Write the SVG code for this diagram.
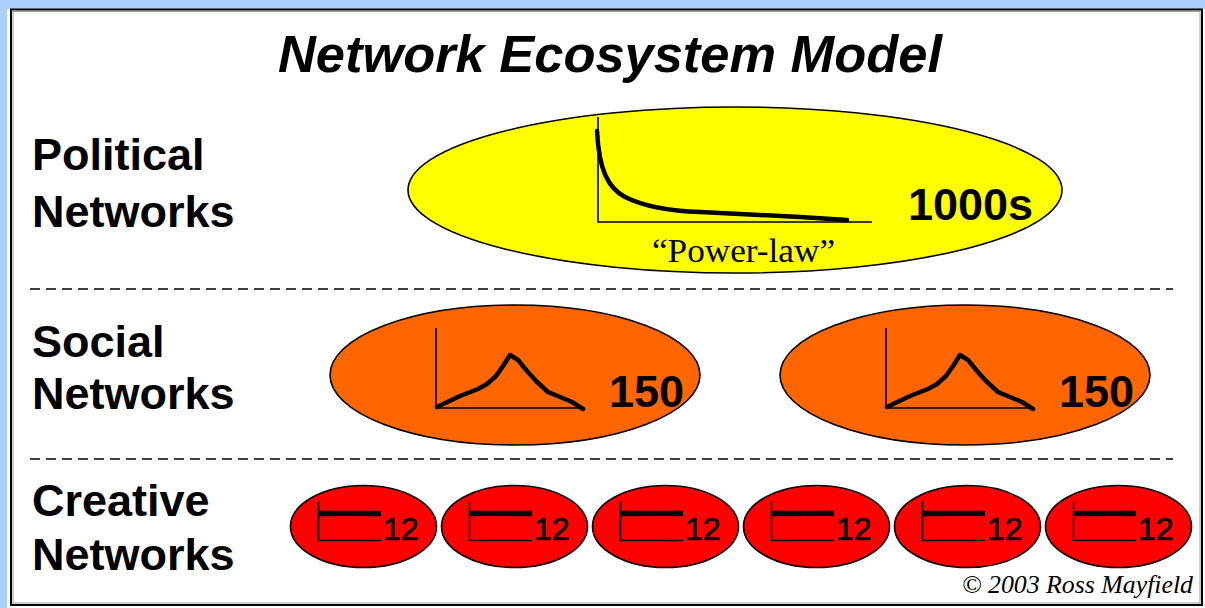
<svg xmlns="http://www.w3.org/2000/svg" width="1205" height="608" viewBox="0 0 1205 608">
  <style>
    .lbl { font-family: "Liberation Sans", Arial, sans-serif; font-weight: bold; font-size: 45px; fill: #000; }
    .num { font-family: "Liberation Sans", Arial, sans-serif; font-weight: bold; font-size: 45px; fill: #000; }
    .small { font-family: "Liberation Sans", Arial, sans-serif; font-size: 32px; fill: #000; stroke: #000; stroke-width: 0.7; }
    .ell { stroke: #000; stroke-width: 1.6; }
    .axis { stroke: #000; stroke-width: 1.6; fill: none; }
    .curve { stroke: #000; stroke-width: 4.5; fill: none; stroke-linejoin: round; stroke-linecap: round; }
    .dash { stroke: #000; stroke-width: 1.5; stroke-dasharray: 10 6; }
  </style>
  <rect x="0" y="0" width="1205" height="608" fill="#abd0fd"/>
  <rect x="7" y="9" width="1198" height="599" fill="#ffffff"/>
  <rect x="11" y="9.5" width="1191" height="595.5" fill="#ffffff" stroke="#000" stroke-width="2"/>
  <rect x="13" y="11.5" width="1187" height="591.5" fill="none" stroke="#999" stroke-width="1"/>

  <g id="title">
    <text x="278" y="72" textLength="664" lengthAdjust="spacingAndGlyphs" style="font-family:'Liberation Sans',Arial,sans-serif;font-weight:bold;font-style:italic;font-size:52px;fill:#000">Network Ecosystem Model</text>
  </g>

  <g id="row-labels">
    <text class="lbl" x="32" y="170">Political</text>
    <text class="lbl" x="32" y="227">Networks</text>
    <text class="lbl" x="32" y="357">Social</text>
    <text class="lbl" x="32" y="409">Networks</text>
    <text class="lbl" x="32" y="516">Creative</text>
    <text class="lbl" x="32" y="570">Networks</text>
  </g>

  <g id="connectors">
    <line class="dash" x1="30" y1="289" x2="1173" y2="289"/>
    <line class="dash" x1="30" y1="459" x2="1173" y2="459"/>
  </g>

  <g id="political">
    <ellipse class="ell" cx="735" cy="190" rx="327" ry="83" fill="#ffff00"/>
    <polyline class="axis" points="598,117 598,222 872,222"/>
    <path class="curve" stroke-width="6" d="M597,131 C599,170 608,188 625,197 C645,207 670,211 700,212 L740,214 L800,217 L847,220"/>
    <text class="num" x="908" y="220">1000s</text>
    <text x="652" y="262" textLength="183" lengthAdjust="spacingAndGlyphs" style="font-family:'Liberation Serif','Times New Roman',serif;font-size:33px;fill:#000">“Power-law”</text>
  </g>

  <g id="social-1" transform="translate(515,375)">
    <ellipse class="ell" cx="0" cy="0" rx="185" ry="70" fill="#ff6600"/>
    <polyline class="axis" points="-79,-47 -79,33 68,33"/>
    <polyline class="curve" points="-78,32 -55,21 -37,14 -28,9 -19,1 -12,-9 -5,-20 3,-15 12,-4 21,6 33,17 45,22 57,27 68,34"/>
    <text class="num" x="94" y="32">150</text>
  </g>

  <g id="social-2" transform="translate(965,375)">
    <ellipse class="ell" cx="0" cy="0" rx="185" ry="70" fill="#ff6600"/>
    <polyline class="axis" points="-79,-47 -79,33 68,33"/>
    <polyline class="curve" points="-78,32 -55,21 -37,14 -28,9 -19,1 -12,-9 -5,-20 3,-15 12,-4 21,6 33,17 45,22 57,27 68,34"/>
    <text class="num" x="94" y="32">150</text>
  </g>

  <g id="creative-1" transform="translate(363.5,526.5)">
    <ellipse class="ell" cx="0" cy="0" rx="73" ry="41" fill="#ff0000"/>
    <polyline class="axis" points="-45,-25 -45,14 17.5,14"/>
    <line x1="-45" y1="-13" x2="17.5" y2="-13" stroke="#000" stroke-width="5.5"/>
    <text class="small" x="19.5" y="13">12</text>
  </g>
  <g id="creative-2" transform="translate(514.5,526.5)">
    <ellipse class="ell" cx="0" cy="0" rx="73" ry="41" fill="#ff0000"/>
    <polyline class="axis" points="-45,-25 -45,14 17.5,14"/>
    <line x1="-45" y1="-13" x2="17.5" y2="-13" stroke="#000" stroke-width="5.5"/>
    <text class="small" x="19.5" y="13">12</text>
  </g>
  <g id="creative-3" transform="translate(665.5,526.5)">
    <ellipse class="ell" cx="0" cy="0" rx="73" ry="41" fill="#ff0000"/>
    <polyline class="axis" points="-45,-25 -45,14 17.5,14"/>
    <line x1="-45" y1="-13" x2="17.5" y2="-13" stroke="#000" stroke-width="5.5"/>
    <text class="small" x="19.5" y="13">12</text>
  </g>
  <g id="creative-4" transform="translate(816.5,526.5)">
    <ellipse class="ell" cx="0" cy="0" rx="73" ry="41" fill="#ff0000"/>
    <polyline class="axis" points="-45,-25 -45,14 17.5,14"/>
    <line x1="-45" y1="-13" x2="17.5" y2="-13" stroke="#000" stroke-width="5.5"/>
    <text class="small" x="19.5" y="13">12</text>
  </g>
  <g id="creative-5" transform="translate(967.5,526.5)">
    <ellipse class="ell" cx="0" cy="0" rx="73" ry="41" fill="#ff0000"/>
    <polyline class="axis" points="-45,-25 -45,14 17.5,14"/>
    <line x1="-45" y1="-13" x2="17.5" y2="-13" stroke="#000" stroke-width="5.5"/>
    <text class="small" x="19.5" y="13">12</text>
  </g>
  <g id="creative-6" transform="translate(1118.5,526.5)">
    <ellipse class="ell" cx="0" cy="0" rx="73" ry="41" fill="#ff0000"/>
    <polyline class="axis" points="-45,-25 -45,14 17.5,14"/>
    <line x1="-45" y1="-13" x2="17.5" y2="-13" stroke="#000" stroke-width="5.5"/>
    <text class="small" x="19.5" y="13">12</text>
  </g>

  <g id="copyright">
    <text x="962" y="593" textLength="231" lengthAdjust="spacingAndGlyphs" style="font-family:'Liberation Serif','Times New Roman',serif;font-style:italic;font-size:25px;fill:#000">© 2003 Ross Mayfield</text>
  </g>
</svg>
